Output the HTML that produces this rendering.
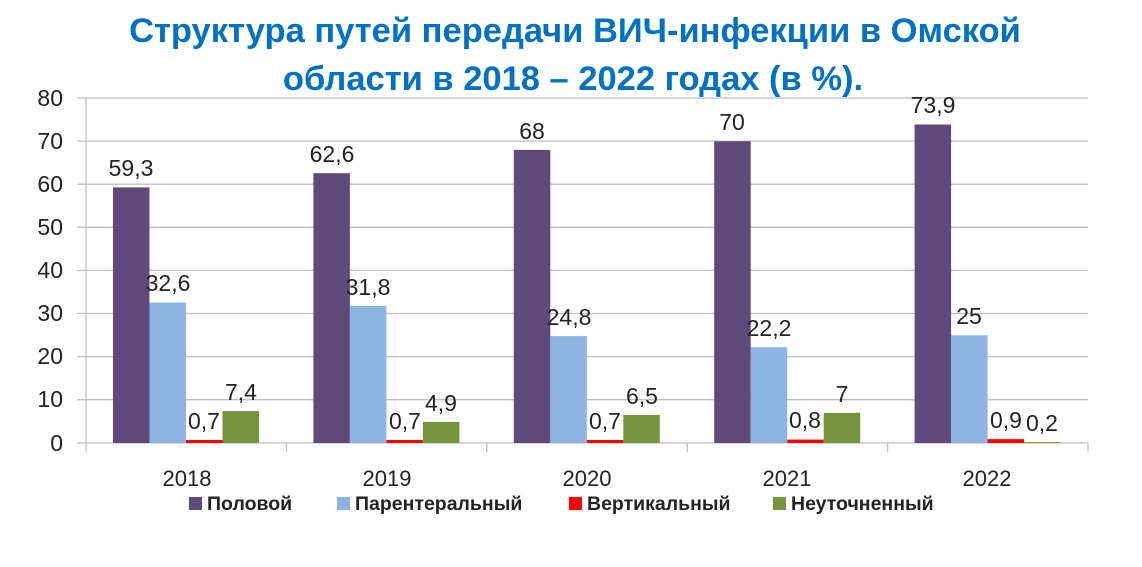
<!DOCTYPE html>
<html><head><meta charset="utf-8"><style>
body{margin:0;background:#fff;width:1142px;height:567px;overflow:hidden}
svg{display:block}
</style></head><body>
<svg width="1142" height="567" xmlns="http://www.w3.org/2000/svg" font-family="Liberation Sans, sans-serif">
<text x="575" y="42" text-anchor="middle" font-size="34.5" font-weight="bold" fill="#0070C0">Структура путей передачи ВИЧ-инфекции в Омской</text>
<text x="573" y="90" text-anchor="middle" font-size="34.5" font-weight="bold" fill="#0070C0">области в 2018 – 2022 годах (в %).</text>
<g stroke="#bfbfbf" stroke-width="1.3">
<line x1="77" y1="98" x2="1088" y2="98"/><line x1="77" y1="141.1" x2="1088" y2="141.1"/><line x1="77" y1="184.2" x2="1088" y2="184.2"/><line x1="77" y1="227.3" x2="1088" y2="227.3"/><line x1="77" y1="270.4" x2="1088" y2="270.4"/><line x1="77" y1="313.5" x2="1088" y2="313.5"/><line x1="77" y1="356.6" x2="1088" y2="356.6"/><line x1="77" y1="399.7" x2="1088" y2="399.7"/><line x1="77" y1="443" x2="1088" y2="443"/>
<line x1="86" y1="98" x2="86" y2="452"/><line x1="286.4" y1="443" x2="286.4" y2="452"/><line x1="486.8" y1="443" x2="486.8" y2="452"/><line x1="687.2" y1="443" x2="687.2" y2="452"/><line x1="887.6" y1="443" x2="887.6" y2="452"/><line x1="1088" y1="443" x2="1088" y2="452"/>
</g>
<g font-size="23" fill="#222" text-anchor="end">
<text x="63" y="106">80</text><text x="63" y="149">70</text><text x="63" y="192">60</text><text x="63" y="235">50</text><text x="63" y="278">40</text><text x="63" y="321">30</text><text x="63" y="364">20</text><text x="63" y="407">10</text><text x="63" y="451">0</text>
</g>
<g>
<rect x="113" y="187.4" width="36.5" height="255.6" fill="#604A7B"/>
<rect x="149.5" y="302.5" width="36.5" height="140.5" fill="#8EB4E3"/>
<rect x="186" y="440" width="36.5" height="3" fill="#FF0000"/>
<rect x="222.5" y="411.1" width="36.5" height="31.9" fill="#77933C"/>
<rect x="313.4" y="173.2" width="36.5" height="269.8" fill="#604A7B"/>
<rect x="349.9" y="305.9" width="36.5" height="137.1" fill="#8EB4E3"/>
<rect x="386.4" y="440" width="36.5" height="3" fill="#FF0000"/>
<rect x="422.9" y="421.9" width="36.5" height="21.1" fill="#77933C"/>
<rect x="513.8" y="149.9" width="36.5" height="293.1" fill="#604A7B"/>
<rect x="550.3" y="336.1" width="36.5" height="106.9" fill="#8EB4E3"/>
<rect x="586.8" y="440" width="36.5" height="3" fill="#FF0000"/>
<rect x="623.3" y="415" width="36.5" height="28" fill="#77933C"/>
<rect x="714.2" y="141.3" width="36.5" height="301.7" fill="#604A7B"/>
<rect x="750.7" y="347.3" width="36.5" height="95.7" fill="#8EB4E3"/>
<rect x="787.2" y="439.6" width="36.5" height="3.4" fill="#FF0000"/>
<rect x="823.7" y="412.8" width="36.5" height="30.2" fill="#77933C"/>
<rect x="914.6" y="124.5" width="36.5" height="318.5" fill="#604A7B"/>
<rect x="951.1" y="335.3" width="36.5" height="107.7" fill="#8EB4E3"/>
<rect x="987.6" y="439.1" width="36.5" height="3.9" fill="#FF0000"/>
<rect x="1024.1" y="442.1" width="36.5" height="0.9" fill="#77933C"/>
</g>
<g font-size="23" fill="#222" text-anchor="middle">
<text x="131" y="176">59,3</text><text x="168" y="291">32,6</text><text x="204" y="429">0,7</text><text x="241" y="400">7,4</text>
<text x="332" y="162">62,6</text><text x="368" y="295">31,8</text><text x="405" y="429">0,7</text><text x="441" y="411">4,9</text>
<text x="532" y="139">68</text><text x="569" y="325">24,8</text><text x="605" y="429">0,7</text><text x="642" y="404">6,5</text>
<text x="732" y="130">70</text><text x="769" y="336">22,2</text><text x="805" y="428">0,8</text><text x="842" y="402">7</text>
<text x="933" y="113">73,9</text><text x="969" y="324">25</text><text x="1006" y="428">0,9</text><text x="1042" y="431">0,2</text>
</g>
<g font-size="22" fill="#222" text-anchor="middle">
<text x="187" y="486">2018</text><text x="387" y="486">2019</text><text x="587" y="486">2020</text><text x="787" y="486">2021</text><text x="987" y="486">2022</text>
</g>
<g font-size="19.5" font-weight="bold" fill="#222">
<rect x="189" y="497" width="13" height="13" fill="#604A7B"/><text x="207" y="510">Половой</text>
<rect x="337" y="497" width="13" height="13" fill="#8EB4E3"/><text x="355" y="510">Парентеральный</text>
<rect x="569" y="497" width="13" height="13" fill="#FF0000"/><text x="587" y="510">Вертикальный</text>
<rect x="773" y="497" width="13" height="13" fill="#77933C"/><text x="791" y="510">Неуточненный</text>
</g>
</svg>
</body></html>
